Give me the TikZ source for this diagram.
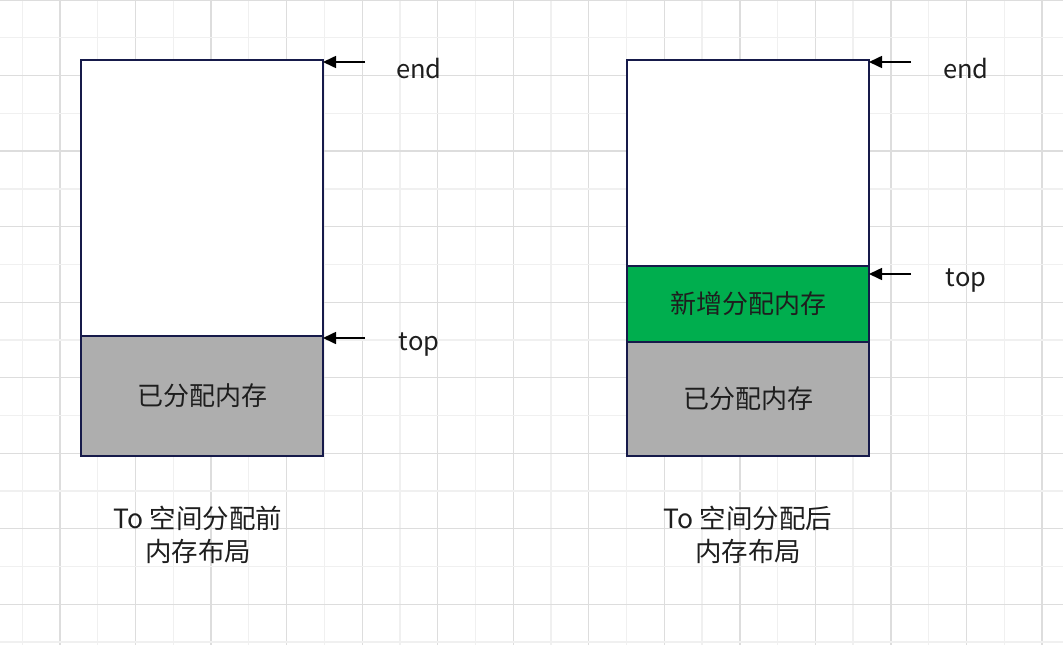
\documentclass[tikz,border=0pt]{standalone}
\usepackage{fontspec}
\setmainfont{Noto Sans CJK SC}
\usetikzlibrary{arrows.meta}
\definecolor{gridlight}{HTML}{F0F0F0}
\definecolor{griddark}{HTML}{DDDDDD}
\definecolor{boxline}{HTML}{161A4A}
\definecolor{usedgray}{HTML}{AEAEAE}
\definecolor{newgreen}{HTML}{00AE4E}
\definecolor{txt}{HTML}{1E1E1E}
\tikzset{
  memblock/.style={draw=boxline, line width=2pt, minimum width=242pt, inner sep=0pt, outer sep=0pt, text=txt, font=\fontsize{26}{30}\selectfont},
  ptr/.style={-{Triangle[length=13pt,width=12pt]}, line width=1.6pt, black},
  ptrlabel/.style={text=txt, font=\fontsize{25.5}{29}\selectfont, inner sep=0pt},
  caption/.style={text=txt, font=\fontsize{26.5}{33}\selectfont, align=center, inner sep=0pt}
}
\begin{document}
\begin{tikzpicture}[x=1pt,y=-1pt]
\useasboundingbox (0,0) rectangle (1063,645);
\fill[white] (0,0) rectangle (1063,645);
% grid
\foreach \i in {0,...,13} {
  \draw[gridlight, line width=1.3pt] ({22.2+75.54*\i},0) -- ({22.2+75.54*\i},645);
  \draw[griddark, line width=1.3pt] ({60+75.54*\i},0) -- ({60+75.54*\i},645);
}
\foreach \i in {0,...,8} {
  \draw[griddark, line width=1.3pt] (0,{75.54*\i}) -- (1063,{75.54*\i});
  \draw[gridlight, line width=1.3pt] (0,{37.77+75.54*\i}) -- (1063,{37.77+75.54*\i});
}
% left layout
\node[memblock, fill=white, minimum height=276pt] (lfree) at (202,198) {};
\node[memblock, fill=usedgray, minimum height=120pt] (lused) at (202,396) {已分配内存};
% right layout
\node[memblock, fill=white, minimum height=206pt] (rfree) at (748,163) {};
\node[memblock, fill=newgreen, minimum height=76pt] (rnew) at (748,304) {新增分配内存};
\node[memblock, fill=usedgray, minimum height=114pt] (rused) at (748,399) {已分配内存};
% pointers
\coordinate (lendc) at (365,62);
\coordinate (ltopc) at (365,338);
\coordinate (rendc) at (911,62);
\coordinate (rtopc) at (911,274);
\draw[ptr] (lendc) -- (lendc -| lfree.east);
\draw[ptr] (ltopc) -- (ltopc -| lused.east);
\draw[ptr] (rendc) -- (rendc -| rfree.east);
\draw[ptr] (rtopc) -- (rtopc -| rnew.east);
\node[ptrlabel] (lend) at (419,69) {end};
\node[ptrlabel] (ltop) at (419,345) {top};
\node[ptrlabel] (rend) at (966,69) {end};
\node[ptrlabel] (rtop) at (966,281) {top};
% captions
\node[caption] (lcap) at (198,535) {To 空间分配前\\内存布局};
\node[caption] (rcap) at (748,535) {To 空间分配后\\内存布局};
\end{tikzpicture}
\end{document}
